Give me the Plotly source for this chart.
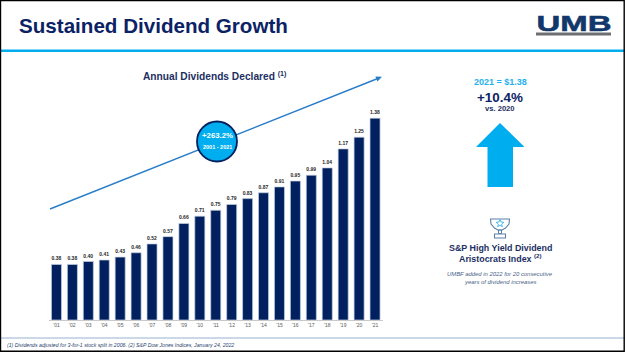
import math
import plotly.graph_objects as go

years = ["'01","'02","'03","'04","'05","'06","'07","'08","'09","'10","'11","'12","'13","'14","'15","'16","'17","'18","'19","'20","'21"]
dividends = [0.38,0.38,0.40,0.41,0.43,0.46,0.52,0.57,0.66,0.71,0.75,0.79,0.83,0.87,0.91,0.95,0.99,1.04,1.17,1.25,1.38]

W, H = 625, 352
NAVY = "#002060"
CYAN = "#00AEEF"
def X(p): return p / W
def Y(p): return 1 - p / H

fig = go.Figure(go.Bar(
    x=years, y=dividends,
    text=[f"<b>{v:.2f}</b>" for v in dividends], textposition="outside", cliponaxis=False,
    textfont=dict(family="Liberation Sans", size=5, color="#262626"),
    marker=dict(color=NAVY, line=dict(color="#c5cfe0", width=0.7)),
))

def path(points, close=True):
    s = "M" + " L".join(f"{X(a):.5f},{Y(b):.5f}" for a, b in points)
    return s + (" Z" if close else "")

shapes = []
def add_line(x0, y0, x1, y1, color, width):
    shapes.append(dict(type="line", xref="paper", yref="paper", x0=X(x0), y0=Y(y0), x1=X(x1), y1=Y(y1),
                       line=dict(color=color, width=width), layer="above"))
def add_poly(pts, fill=None, line=None, width=1, close=True):
    shapes.append(dict(type="path", xref="paper", yref="paper", path=path(pts, close),
                       fillcolor=fill if fill else "rgba(0,0,0,0)",
                       line=dict(color=line if line else "rgba(0,0,0,0)", width=width if line else 0), layer="above"))

# slide frame and rules
add_line(0, 50.8, 625, 50.8, CYAN, 2.6)
add_line(0, 338, 625, 338, "#b9cbdf", 1.4)
add_poly([(0.5, 0.5), (624.2, 0.5), (624.2, 351.3), (0.5, 351.3)], line="#000000", width=1.4)

# logo bar
add_poly([(536, 32.5), (611, 32.5), (611, 35.5), (536, 35.5)], fill="#6d6e71")

# trend arrow
tx0, ty0, tx1, ty1 = 50, 209, 382, 76.8
add_line(tx0, ty0, tx1 - 3, ty1 + 1.2, "#2a7dc9", 1.4)
ang = math.atan2(ty1 - ty0, tx1 - tx0)
hl, hw = 6, 2.8
bx, by = tx1 - hl * math.cos(ang), ty1 - hl * math.sin(ang)
nx, ny = -math.sin(ang), math.cos(ang)
add_poly([(tx1, ty1), (bx + hw * nx, by + hw * ny), (bx - hw * nx, by - hw * ny)], fill="#2a7dc9")

# growth badge
shapes.append(dict(type="circle", xref="paper", yref="paper", x0=X(197), x1=X(237), y0=Y(121.5), y1=Y(161.5),
                   fillcolor=CYAN, line=dict(color=NAVY, width=1.8), layer="above"))

# up arrow
add_poly([(500, 123), (524.5, 147), (513, 147), (513, 187), (487.5, 187), (487.5, 147), (476, 147)], fill=CYAN)

# trophy
TR = "#5f7fa8"
add_poly([(490.5, 219), (509.5, 219), (509, 224), (505.5, 228), (502, 230), (498, 230), (494.5, 228), (491, 224)], line=TR, width=1.1)
add_poly([(498.5, 230), (498.5, 233.5), (501.5, 233.5), (501.5, 230)], line=TR, width=1.0)
add_poly([(494.5, 234), (505.5, 234), (505.5, 238), (494.5, 238)], line=TR, width=1.1)
star = []
for i in range(10):
    r = 4 if i % 2 == 0 else 1.8
    a = -math.pi / 2 + i * math.pi / 5
    star.append((500 + r * math.cos(a), 223.5 + r * math.sin(a)))
add_poly(star, line="#35b5ee", width=0.9)

def note(x, y, text, size, color, bold=False, italic=False, anchor="center", family="Liberation Sans"):
    if bold: text = f"<b>{text}</b>"
    if italic: text = f"<i>{text}</i>"
    return dict(xref="paper", yref="paper", x=X(x), y=Y(y), text=text, showarrow=False, xanchor=anchor, yanchor="middle",
                font=dict(family=family, size=size, color=color), align="center")

T = "#1c2f62"
annotations = [
    note(17, 25, "Sustained Dividend Growth", 20.6, "#0b2265", bold=True, anchor="left"),
    note(573.5, 24, "UMB", 22, "#12386b", bold=True),
    note(215, 76, 'Annual Dividends Declared <sup style="font-size:5px">(1)</sup>', 10.2, T, bold=True),
    note(217, 135.5, "+263.2%", 7.8, "#ffffff", bold=True),
    note(217, 146.5, "2001 - 2021", 5.5, "#ffffff", bold=True),
    note(500, 81.5, "2021 = $1.38", 9, "#1fb1ee", bold=True),
    note(500, 97, "+10.4%", 13.4, "#0b2265", bold=True),
    note(500, 108, "vs. 2020", 7.6, T, bold=True),
    note(500, 248, "S&amp;P High Yield Dividend", 8.9, T, bold=True),
    note(500, 257.5, 'Aristocrats Index <sup style="font-size:5px">(2)</sup>', 8.9, T, bold=True),
    note(500, 273.5, "UMBF added in 2022 for 20 consecutive", 5.9, "#4a5f8a", italic=True),
    note(500, 281.5, "years of dividend increases", 5.9, "#4a5f8a", italic=True),
    note(5, 345, "(1) Dividends adjusted for 3-for-1 stock split in 2006. (2) S&amp;P Dow Jones Indices, January 24, 2022", 5.2, "#2a3f70", italic=True, anchor="left"),
]

fig.update_layout(
    width=W, height=H, margin=dict(l=0, r=0, t=0, b=0), paper_bgcolor="#ffffff", plot_bgcolor="#ffffff",
    showlegend=False, bargap=0.37, shapes=shapes, annotations=annotations,
    xaxis=dict(domain=[X(48.5), X(383)], type="category", showgrid=False, showline=True, linecolor="#c9c9c9", linewidth=0.8,
               ticks="", ticklen=0, tickangle=0, tickfont=dict(family="Liberation Sans", size=5, color="#595959"), anchor="y"),
    yaxis=dict(domain=[Y(320), Y(86)], range=[0, 1.6], visible=False, anchor="x"),
)
logo_js = """
document.body.style.margin='0';
document.querySelectorAll('.annotation-text').forEach(function(t){
  if(t.textContent==='UMB'){
    t.setAttribute('textLength','75');
    t.setAttribute('lengthAdjust','spacingAndGlyphs');
    t.style.stroke='#12386b'; t.style.strokeWidth='0.5px';
  }
});
"""
fig.write_html("out.html", config={"displayModeBar": False}, post_script=logo_js)
